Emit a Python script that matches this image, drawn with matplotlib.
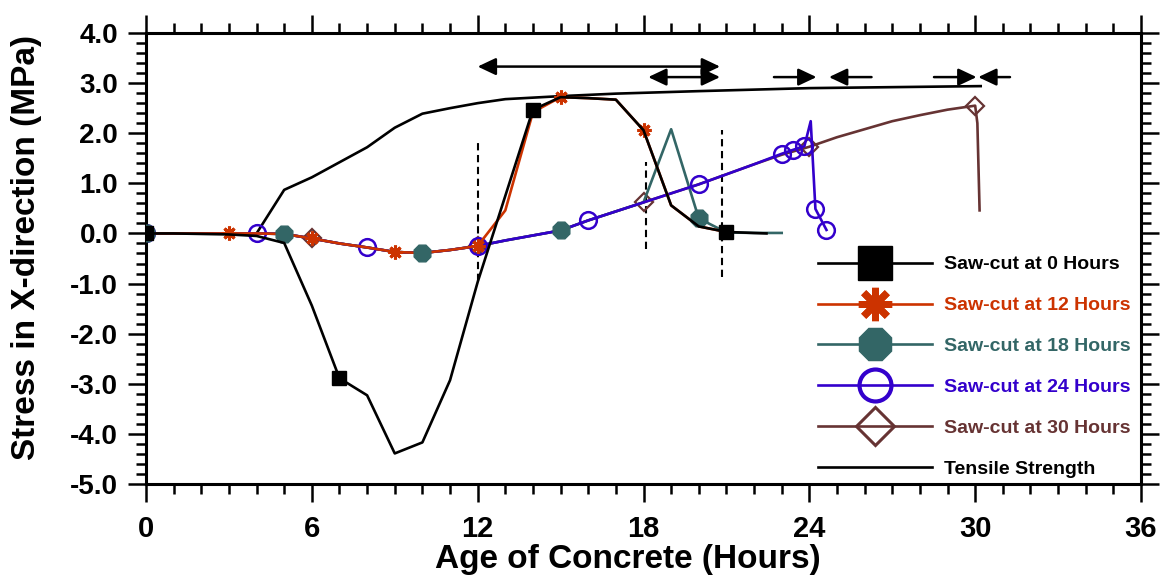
import matplotlib
matplotlib.use("Agg")
import matplotlib.pyplot as plt
from matplotlib.lines import Line2D
from matplotlib.patches import FancyArrowPatch
from matplotlib.ticker import MultipleLocator, FuncFormatter

plt.rcParams['font.family'] = ['Liberation Sans', 'DejaVu Sans']
plt.rcParams['font.weight'] = 'bold'

# ---- data -------------------------------------------------------------
# saw-cut at 0 hours
cut0_x = list(range(0, 22)) + [22.45]
cut0_y = [0.0, 0.0, -0.01, -0.02, -0.05, -0.19, -1.44, -2.89, -3.23, -4.39,
          -4.17, -2.93, -0.97, 0.75, 2.47, 2.72, 2.70, 2.67, 2.06, 0.56,
          0.14, 0.03, 0.0]

# saw-cut at 12 hours
cut12_x = list(range(0, 22))
cut12_y = [0.0, 0.0, 0.0, 0.0, 0.0, -0.01, -0.10, -0.20, -0.28, -0.37,
           -0.39, -0.33, -0.25, 0.46, 2.42, 2.72, 2.70, 2.67, 2.06, 0.56,
           0.14, 0.03]

# saw-cut at 18 hours
cut18_x = list(range(0, 24))
cut18_y = [0.0, 0.0, 0.0, 0.0, 0.0, -0.01, -0.10, -0.20, -0.28, -0.37,
           -0.39, -0.33, -0.25, -0.14, -0.04, 0.06, 0.26, 0.44, 0.62, 2.08,
           0.30, 0.02, 0.01, 0.01]

# saw-cut at 24 hours
cut24_x = list(range(0, 24)) + [23.42, 23.82, 24.05, 24.22, 24.62]
cut24_y = [0.0, 0.0, 0.0, 0.0, 0.0, -0.01, -0.10, -0.20, -0.28, -0.37,
           -0.39, -0.33, -0.25, -0.14, -0.04, 0.06, 0.26, 0.44, 0.62, 0.80,
           0.98, 1.18, 1.38, 1.59, 1.67, 1.74, 2.24, 0.49, 0.07]
cut24_marks = [0, 4, 8, 12, 16, 20, 23, 24, 25, 27, 28]

# saw-cut at 30 hours
cut30_x = list(range(0, 31)) + [30.08, 30.16]
cut30_y = [0.0, 0.0, 0.0, 0.0, 0.0, -0.01, -0.10, -0.20, -0.28, -0.37,
           -0.39, -0.33, -0.25, -0.14, -0.04, 0.06, 0.26, 0.44, 0.62, 0.80,
           0.98, 1.18, 1.38, 1.57, 1.73, 1.92, 2.08, 2.24, 2.36, 2.47,
           2.55, 2.20, 0.46]

# tensile strength
tens_x = [4, 5, 6, 7, 8, 9, 10, 11, 12, 13, 15, 17, 20, 24, 30.2]
tens_y = [0.0, 0.87, 1.12, 1.42, 1.72, 2.11, 2.39, 2.50, 2.60, 2.68,
          2.74, 2.79, 2.84, 2.90, 2.94]

# saw-cut timing markers
cut_times = [12.0, 18.1, 20.85]
cut_lo = [-0.94, -0.31, -0.87]
cut_hi = [1.86, 1.42, 2.06]

# crack-opening windows drawn as arrows: (start, end, level, style)
spans = [(12.0, 20.77, 3.33, '<|-|>'),
         (18.17, 20.77, 3.12, '<|-|>'),
         (22.72, 24.26, 3.12, '-|>'),
         (26.25, 24.71, 3.12, '-|>'),
         (28.51, 30.05, 3.12, '-|>'),
         (31.26, 30.11, 3.12, '-|>')]

labels = ['Saw-cut at 0 Hours', 'Saw-cut at 12 Hours', 'Saw-cut at 18 Hours',
          'Saw-cut at 24 Hours', 'Saw-cut at 30 Hours', 'Tensile Strength']

# ---- styles -----------------------------------------------------------
BLACK = '#000000'
RED = '#CC3300'
TEAL = '#336666'
BLUE = '#3300CC'
BROWN = '#663333'
ASTER = (8, 2, 0)
OCTA = (8, 0, 22.5)
LW = 1.9

fig = plt.figure(figsize=(11.62, 5.80), dpi=100)
ax = fig.add_axes([146 / 1162, 1 - 484 / 580, 995 / 1162, 451 / 580])

ax.plot(tens_x, tens_y, color=BLACK, lw=LW, zorder=2)
ax.plot(cut30_x, cut30_y, color=BROWN, lw=LW, marker='D', ms=9.5,
        mfc='none', mec=BROWN, mew=1.6, markevery=6, zorder=2.2)
ax.plot(cut18_x, cut18_y, color=TEAL, lw=LW, zorder=2.3)
ax.plot(cut24_x, cut24_y, color=BLUE, lw=LW, marker='o', ms=12,
        mfc='none', mec=BLUE, mew=1.8, markevery=cut24_marks, zorder=2.4)
ax.plot(cut12_x, cut12_y, color=RED, lw=LW, zorder=2.5)
ax.plot(cut18_x, cut18_y, ls='none', marker=OCTA, ms=13, color=TEAL,
        markevery=5, zorder=2.6)
ax.plot(cut12_x, cut12_y, ls='none', marker=ASTER, ms=10, mec=RED, mew=2.2,
        markevery=3, zorder=2.7)
ax.plot(cut0_x, cut0_y, color=BLACK, lw=LW, marker='s', ms=10,
        markevery=7, zorder=2.8)

for t, lo, hi in zip(cut_times, cut_lo, cut_hi):
    ax.plot([t, t], [lo, hi], color=BLACK, lw=1.5, ls=(0, (3.5, 2.2)),
            zorder=1.5)

for x0, x1, yv, st in spans:
    arrow = FancyArrowPatch((x0, yv), (x1, yv), arrowstyle=st,
                            mutation_scale=20, shrinkA=0, shrinkB=0,
                            color=BLACK, lw=1.8, zorder=3)
    arrow.set_arrowstyle(st, head_length=0.55, head_width=0.26)
    ax.add_patch(arrow)

# ---- axes -------------------------------------------------------------
ax.set_xlim(0, 36)
ax.set_ylim(-5, 4)
ax.xaxis.set_major_locator(MultipleLocator(6))
ax.xaxis.set_minor_locator(MultipleLocator(1))
ax.yaxis.set_major_locator(MultipleLocator(1))
ax.yaxis.set_minor_locator(MultipleLocator(0.2))
ax.yaxis.set_major_formatter(FuncFormatter(lambda v, p: f"{v:.1f}"))
ax.xaxis.set_major_formatter(FuncFormatter(lambda v, p: f"{v:.0f}"))
for s in ax.spines.values():
    s.set_linewidth(2.2)
ax.tick_params(which='both', direction='out', top=True, right=True,
               width=1.8)
ax.tick_params(which='major', length=13)
ax.tick_params(which='minor', length=7)
ax.tick_params(axis='x', which='major', labelsize=21, pad=9)
ax.tick_params(axis='y', which='major', labelsize=20, pad=7)

ax.set_xlabel('Age of Concrete (Hours)', fontsize=24, fontweight='bold')
ax.set_ylabel('Stress in X-direction (MPa)', fontsize=24, fontweight='bold')
ax.xaxis.set_label_coords(0.484, -0.132)
ax.yaxis.set_label_coords(-0.105, 0.525)

# ---- legend -----------------------------------------------------------
handles = [
    Line2D([], [], color=BLACK, lw=LW, marker='s', ms=24),
    Line2D([], [], color=RED, lw=LW, marker=ASTER, ms=24, mew=5, mec=RED),
    Line2D([], [], color=TEAL, lw=LW, marker=OCTA, ms=25),
    Line2D([], [], color=BLUE, lw=LW, marker='o', ms=23, mfc='none', mew=3),
    Line2D([], [], color=BROWN, lw=LW, marker='D', ms=19, mfc='none', mew=2.2),
    Line2D([], [], color=BLACK, lw=LW),
]
leg = ax.legend(handles, labels, loc='upper left',
                bbox_to_anchor=(0.675, 0.506), frameon=False,
                prop={'family': 'Liberation Sans', 'weight': 'bold', 'size': 14},
                handlelength=5.9, handletextpad=0.6, labelspacing=1.2,
                borderpad=0, borderaxespad=0)
for txt, c in zip(leg.get_texts(), [BLACK, RED, TEAL, BLUE, BROWN, BLACK]):
    txt.set_color(c)

fig.savefig('out.png', dpi=100)
